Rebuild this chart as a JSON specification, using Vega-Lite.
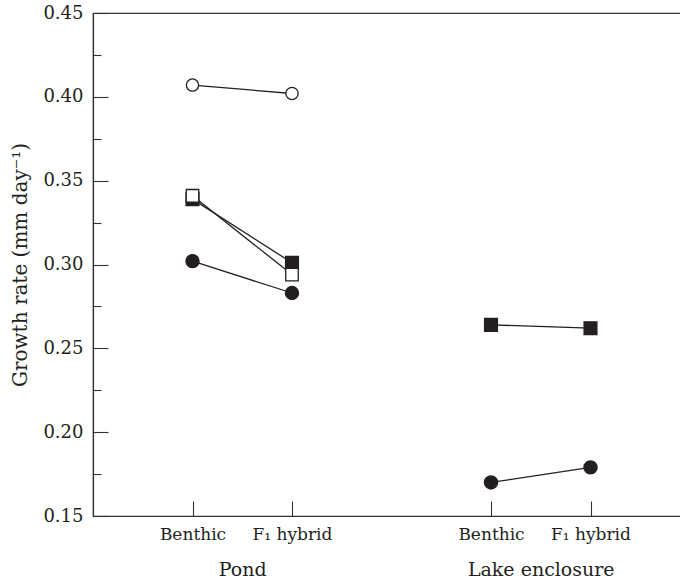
{
  "$schema": "https://vega.github.io/schema/vega-lite/v6.json",
  "width": 597,
  "height": 503,
  "autosize": {"type": "none"},
  "padding": {"left": 93, "top": 13, "right": 0, "bottom": 68},
  "background": "white",
  "config": {
    "view": {"stroke": "#333333", "strokeWidth": 1.2},
    "font": "DejaVu Serif",
    "axis": {"domainColor": "#333333", "tickColor": "#333333", "labelColor": "#231f20", "titleColor": "#231f20", "grid": false, "domainWidth": 1.2, "tickWidth": 1.1}
  },
  "datasets": {
    "growth": [
      {"habitat": "Pond", "population": "Benthic", "cell": "Pond|Benthic", "series": "A", "rate": 0.407},
      {"habitat": "Pond", "population": "F₁ hybrid", "cell": "Pond|F1", "series": "A", "rate": 0.402},
      {"habitat": "Pond", "population": "Benthic", "cell": "Pond|Benthic", "series": "C", "rate": 0.339},
      {"habitat": "Pond", "population": "F₁ hybrid", "cell": "Pond|F1", "series": "C", "rate": 0.301},
      {"habitat": "Pond", "population": "Benthic", "cell": "Pond|Benthic", "series": "B", "rate": 0.341},
      {"habitat": "Pond", "population": "F₁ hybrid", "cell": "Pond|F1", "series": "B", "rate": 0.294},
      {"habitat": "Pond", "population": "Benthic", "cell": "Pond|Benthic", "series": "D", "rate": 0.302},
      {"habitat": "Pond", "population": "F₁ hybrid", "cell": "Pond|F1", "series": "D", "rate": 0.283},
      {"habitat": "Lake enclosure", "population": "Benthic", "cell": "Lake|Benthic", "series": "C", "rate": 0.264},
      {"habitat": "Lake enclosure", "population": "F₁ hybrid", "cell": "Lake|F1", "series": "C", "rate": 0.262},
      {"habitat": "Lake enclosure", "population": "Benthic", "cell": "Lake|Benthic", "series": "D", "rate": 0.170},
      {"habitat": "Lake enclosure", "population": "F₁ hybrid", "cell": "Lake|F1", "series": "D", "rate": 0.179}
    ],
    "groups": [
      {"habitat": "Pond"},
      {"habitat": "Lake enclosure"}
    ]
  },
  "layer": [
    {
      "data": {"name": "growth"},
      "mark": {"type": "line", "color": "#231f20", "strokeWidth": 1.3},
      "encoding": {
        "x": {
          "field": "cell", "type": "nominal",
          "scale": {"type": "point", "domain": ["Pond|Benthic", "Pond|F1", "gap", "Lake|Benthic", "Lake|F1"], "padding": 1},
          "axis": {
            "orient": "bottom",
            "values": ["Pond|Benthic", "Pond|F1", "Lake|Benthic", "Lake|F1"],
            "labelExpr": "indexof(datum.value, 'Benthic') >= 0 ? 'Benthic' : 'F₁ hybrid'",
            "labelAngle": 0, "tickSize": -15, "labelPadding": 25, "labelFontSize": 17, "title": null
          }
        },
        "y": {
          "field": "rate", "type": "quantitative",
          "scale": {"domain": [0.15, 0.45], "nice": false, "zero": false},
          "axis": {
            "orient": "left",
            "values": [0.15, 0.2, 0.25, 0.3, 0.35, 0.4, 0.45],
            "format": ".2f", "tickSize": -15, "labelPadding": 25, "labelFontSize": 18,
            "title": "Growth rate (mm day⁻¹)", "titleFontSize": 20, "titleFontWeight": "normal", "titlePadding": 12
          }
        },
        "detail": [{"field": "habitat"}, {"field": "series"}]
      }
    },
    {
      "data": {"name": "growth"},
      "mark": {"type": "point", "opacity": 0},
      "encoding": {
        "x": {
          "field": "cell", "type": "nominal",
          "scale": {"type": "point", "domain": ["Pond|Benthic", "Pond|F1", "gap", "Lake|Benthic", "Lake|F1"], "padding": 1},
          "axis": null
        },
        "y": {
          "field": "rate", "type": "quantitative",
          "axis": {
            "orient": "left",
            "values": [0.175, 0.225, 0.275, 0.325, 0.375, 0.425],
            "labels": false, "domain": false, "tickSize": -8, "title": null
          }
        }
      }
    },
    {
      "data": {"name": "growth"},
      "mark": {"type": "point", "filled": true, "opacity": 1, "stroke": "#231f20", "strokeWidth": 1.3},
      "encoding": {
        "x": {
          "field": "cell", "type": "nominal",
          "scale": {"type": "point", "domain": ["Pond|Benthic", "Pond|F1", "gap", "Lake|Benthic", "Lake|F1"], "padding": 1},
          "axis": null
        },
        "y": {"field": "rate", "type": "quantitative", "axis": null},
        "shape": {"field": "series", "type": "nominal", "scale": {"domain": ["A", "B", "C", "D"], "range": ["circle", "square", "square", "circle"]}, "legend": null},
        "fill": {"field": "series", "type": "nominal", "scale": {"domain": ["A", "B", "C", "D"], "range": ["#ffffff", "#ffffff", "#231f20", "#231f20"]}, "legend": null},
        "size": {"field": "series", "type": "ordinal", "scale": {"domain": ["A", "B", "C", "D"], "range": [150, 172, 172, 150]}, "legend": null}
      }
    },
    {
      "data": {"name": "groups"},
      "mark": {"type": "text", "text": ""},
      "encoding": {
        "x": {
          "field": "habitat", "type": "nominal",
          "scale": {"type": "point", "domain": ["Pond", "Lake enclosure"], "padding": 0.5},
          "axis": {"orient": "bottom", "domain": false, "ticks": false, "labelPadding": 44, "labelFontSize": 19, "labelAngle": 0, "title": null}
        }
      }
    }
  ],
  "resolve": {"scale": {"x": "independent"}, "axis": {"x": "independent", "y": "independent"}}
}
